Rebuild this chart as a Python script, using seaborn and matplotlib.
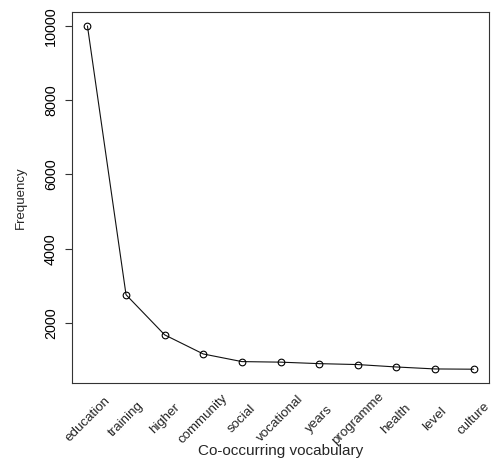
import matplotlib
matplotlib.use('Agg')
import matplotlib.pyplot as plt
import matplotlib.transforms as mtransforms
import seaborn as sns
import pandas as pd

# Data
words = ['education', 'training', 'higher', 'community', 'social', 'vocational',
         'years', 'programme', 'health', 'level', 'culture']
freq = [10000, 2760, 1680, 1165, 960, 945, 905, 880, 815, 762, 755]

df = pd.DataFrame({'word': words, 'freq': freq})

sns.set_style('ticks')
plt.rcParams['font.family'] = ['Liberation Sans', 'DejaVu Sans']

fig = plt.figure(figsize=(4.93, 4.67), dpi=100)
ax = fig.add_axes([0.146, 0.180, 0.846, 0.794])

sns.lineplot(data=df, x='word', y='freq', sort=False, ax=ax, color='#111111',
             linewidth=0.8, marker='o', markersize=4.8, markerfacecolor='none',
             markeredgecolor='black', markeredgewidth=0.8)

n = len(words)
ax.set_xlim(-0.04 * (n - 1), (n - 1) * 1.04)
lo, hi = min(freq), max(freq)
pad = 0.04 * (hi - lo)
ax.set_ylim(lo - pad, hi + pad)

ax.set_yticks([2000, 4000, 6000, 8000, 10000])
ax.set_yticklabels(['2000', '4000', '6000', '8000', '10000'], rotation=90, va='center', fontsize=10.4)
ax.tick_params(axis='y', colors='#333333', labelcolor='black', width=0.8, length=5, pad=5)

# x labels: no tick marks, rotated text centred below each point
ax.set_xticks(range(n))
ax.set_xticklabels(words, rotation=45, ha='center', va='center', rotation_mode='anchor', fontsize=9.6)
ax.tick_params(axis='x', length=0, pad=0)
shift = mtransforms.ScaledTranslation(0, -36 / 100, fig.dpi_scale_trans)
for lab in ax.get_xticklabels():
    lab.set_transform(ax.get_xaxis_transform() + shift)
    lab.set_y(0)

ax.set_xlabel('Co-occurring vocabulary', fontsize=11)
ax.set_ylabel('Frequency', fontsize=9.5)
ax.xaxis.set_label_coords(0.5, -0.164)
ax.yaxis.set_label_coords(-0.108, 0.5)

for s in ax.spines.values():
    s.set_color('#333333')
    s.set_linewidth(0.8)

fig.savefig('out.png', dpi=100)
